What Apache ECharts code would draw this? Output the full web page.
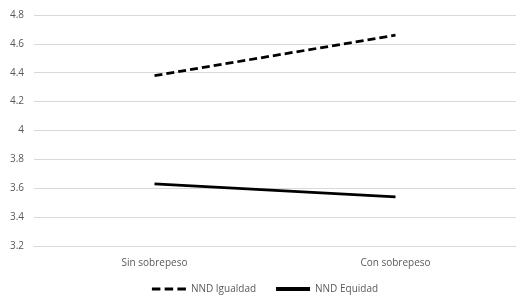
<!DOCTYPE html>
<html><head><meta charset="utf-8">
<script src="https://cdn.jsdelivr.net/npm/echarts@6/dist/echarts.min.js"></script>
<style>html,body{margin:0;padding:0;background:#fff}#c{width:530px;height:308px}</style>
</head><body><div id="c"></div>
<script>
var categories = ['Sin sobrepeso', 'Con sobrepeso'];
var seriesNames = ['NND Igualdad', 'NND Equidad'];
var igualdad = [4.38, 4.66];
var equidad = [3.63, 3.54];
var yTicks = [3.2, 3.4, 3.6, 3.8, 4, 4.2, 4.4, 4.6, 4.8];

var font = 'Open Sans';
var txt = '#595959';
var chart = echarts.init(document.getElementById('c'), null, {renderer: 'canvas'});
chart.setOption({
  animation: false,
  grid: {left: 34, right: 14, top: 15, bottom: 62, containLabel: false},
  legend: {
    bottom: 9, left: 'center',
    itemWidth: 34, itemHeight: 4, itemGap: 20,
    textStyle: {fontFamily: font, fontSize: 10, color: txt, padding: [0,0,0,0]},
    data: [
      {name: seriesNames[0], icon: 'path://M0,0 L8,0 L8,3 L0,3 Z M12,0 L20,0 L20,3 L12,3 Z M24,0 L32,0 L32,3 L24,3 Z', itemStyle: {color: '#000'}},
      {name: seriesNames[1], icon: 'rect', itemStyle: {color: '#000'}}
    ]
  },
  xAxis: {
    type: 'category', data: categories, boundaryGap: true,
    axisLine: {show: true, lineStyle: {color: '#d9d9d9'}},
    axisTick: {show: false},
    axisLabel: {fontFamily: font, fontSize: 10, color: txt, margin: 12}
  },
  yAxis: {
    type: 'value', min: yTicks[0], max: yTicks[yTicks.length-1], interval: 0.2,
    axisLine: {show: false}, axisTick: {show: false},
    splitLine: {lineStyle: {color: '#d9d9d9'}},
    axisLabel: {fontFamily: font, fontSize: 10, color: txt, margin: 10,
      formatter: function(v){ return String(Math.round(v*10)/10); }}
  },
  series: [
    {name: seriesNames[0], type: 'line', data: igualdad, symbol: 'none',
      lineStyle: {color: '#000', width: 2.75, type: [8, 4]}, itemStyle: {color: '#000'}},
    {name: seriesNames[1], type: 'line', data: equidad, symbol: 'none',
      lineStyle: {color: '#000', width: 2.75, type: 'solid'}, itemStyle: {color: '#000'}}
  ]
});
</script></body></html>
